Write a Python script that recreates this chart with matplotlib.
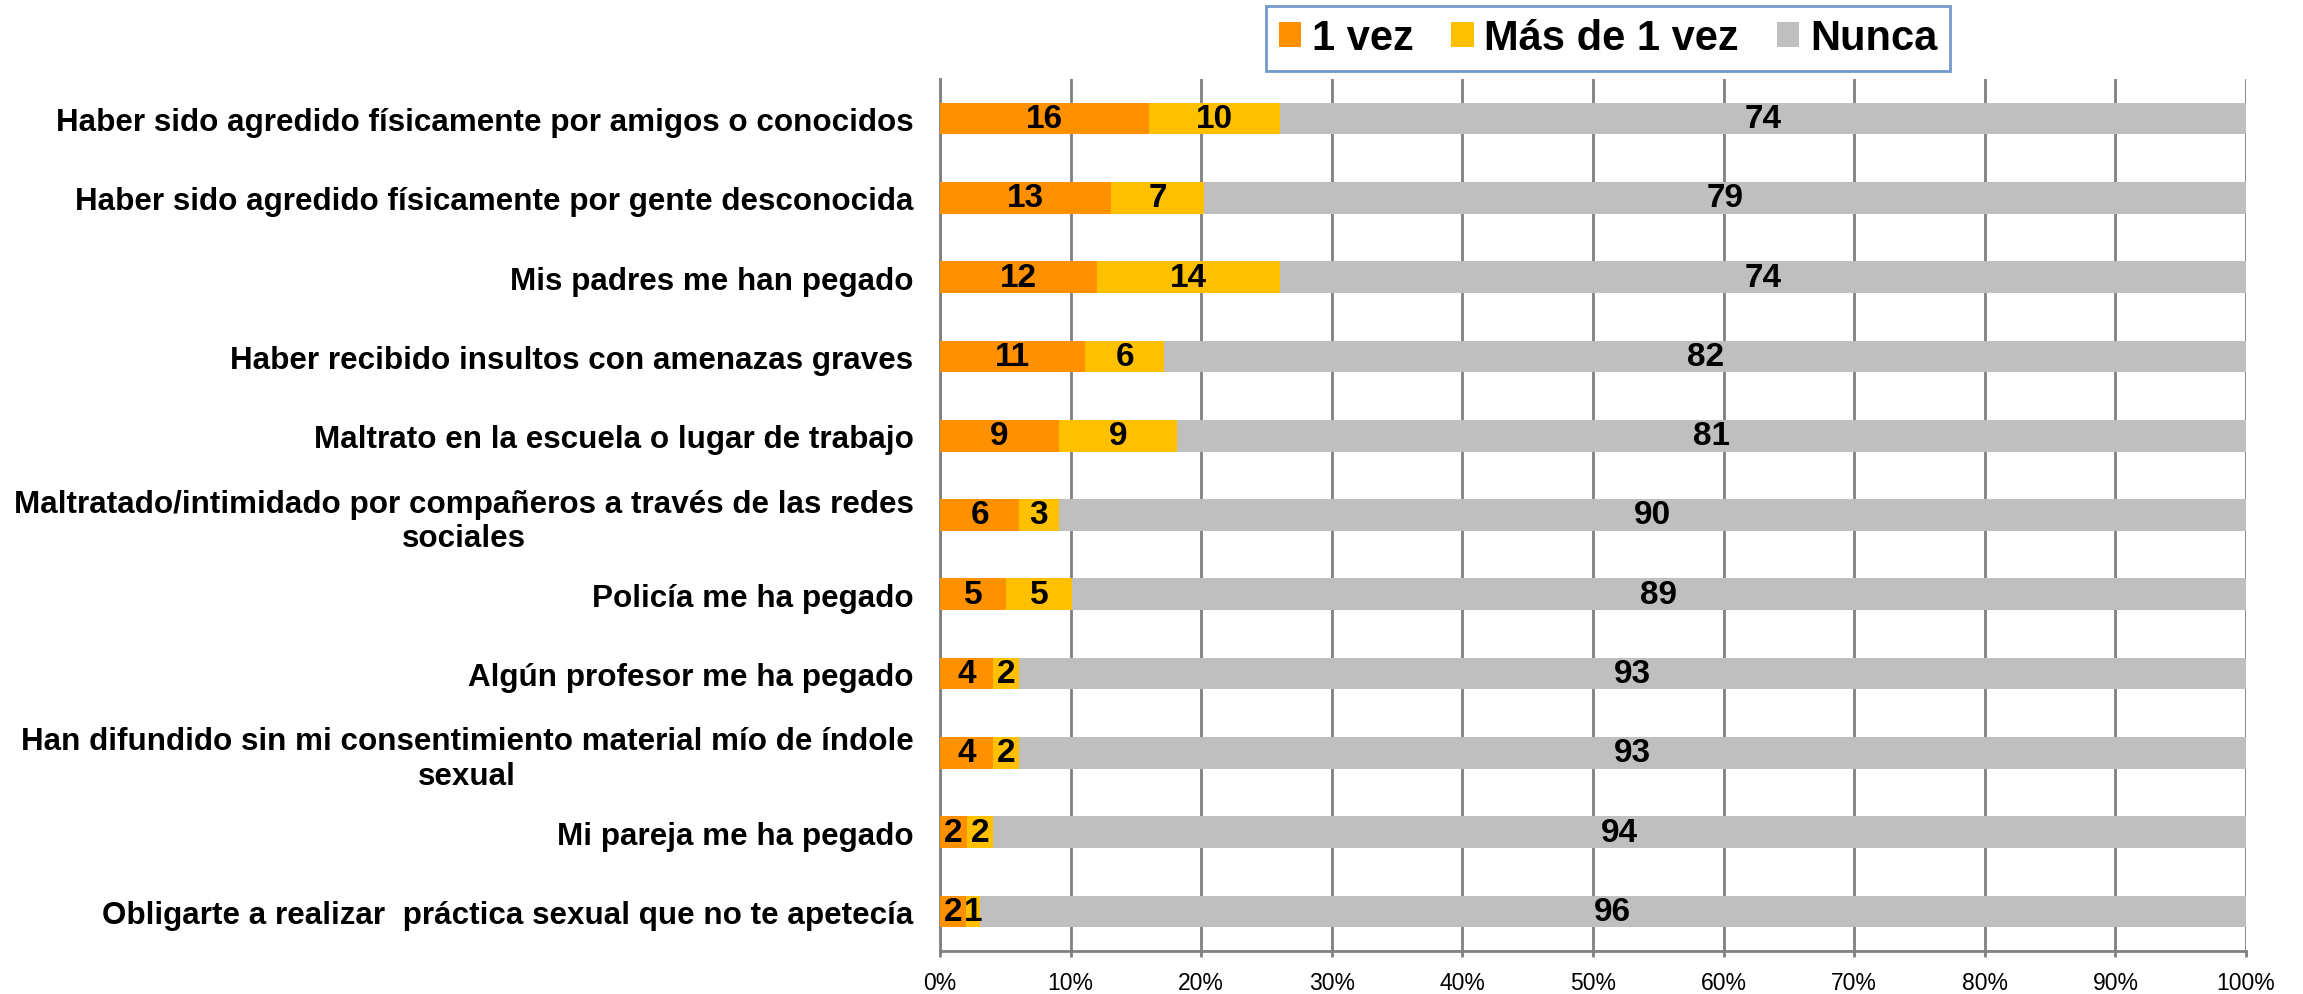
import matplotlib
matplotlib.use("Agg")
import matplotlib.pyplot as plt
import numpy as np
from matplotlib.ticker import PercentFormatter

# categories, top to bottom
categories = [
    "Haber sido agredido físicamente por amigos o conocidos",
    "Haber sido agredido físicamente por gente desconocida",
    "Mis padres me han pegado",
    "Haber recibido insultos con amenazas graves",
    "Maltrato en la escuela o lugar de trabajo",
    "Maltratado/intimidado por compañeros a través de las redes\nsociales",
    "Policía me ha pegado",
    "Algún profesor me ha pegado",
    "Han difundido sin mi consentimiento material mío de índole\nsexual",
    "Mi pareja me ha pegado",
    "Obligarte a realizar  práctica sexual que no te apetecía",
]
una_vez = [16, 13, 12, 11, 9, 6, 5, 4, 4, 2, 2]
mas_de_una = [10, 7, 14, 6, 9, 3, 5, 2, 2, 2, 1]
nunca = [74, 79, 74, 82, 81, 90, 89, 93, 93, 94, 96]

series = [("1 vez", una_vez, "#FF9100"),
          ("Más de 1 vez", mas_de_una, "#FFC000"),
          ("Nunca", nunca, "#BFBFBF")]

font = ["Liberation Sans", "DejaVu Sans"]
plt.rcParams["font.family"] = font

fig = plt.figure(figsize=(23.03, 9.95), dpi=100)
ax = fig.add_axes([940 / 2303, 1 - 952 / 995, (2246 - 940) / 2303, (952 - 80) / 995])

vals = np.array([una_vez, mas_de_una, nunca], dtype=float)
totals = vals.sum(axis=0)
y = np.arange(len(categories))
left = np.zeros(len(categories))
for name, v, col in series:
    v = np.array(v, dtype=float)
    w = v / totals
    ax.barh(y, w, left=left, height=0.4, color=col, label=name, zorder=3)
    for yi, (l, wi, raw) in enumerate(zip(left, w, v)):
        ax.text(l + wi / 2, yi, f"{int(raw)}", ha="center", va="center",
                fontsize=24, fontweight="bold", color="black", zorder=4)
    left += w

ax.set_xlim(0, 1)
ax.set_ylim(len(categories) - 0.5, -0.5)
ax.set_yticks(y)
ax.set_yticklabels(categories, fontsize=22.6, fontweight="bold", ha="right",
                   multialignment="center")
ax.tick_params(axis="y", length=0, pad=19)
ax.set_xticks(np.arange(0, 1.01, 0.1))
ax.xaxis.set_major_formatter(PercentFormatter(1.0, decimals=0))
ax.tick_params(axis="x", labelsize=16.5, length=4.5, width=2, color="#808080", pad=10)
ax.grid(axis="x", color="#808080", linewidth=2, zorder=0)
for s in ["top", "right"]:
    ax.spines[s].set_visible(False)
for s in ["left", "bottom"]:
    ax.spines[s].set_color("#808080")
    ax.spines[s].set_linewidth(2)

leg = fig.legend(loc="upper left", bbox_to_anchor=(1266 / 2303, 1 - 7 / 995), ncol=3,
                 frameon=True, fancybox=False, handlelength=0.55, handleheight=0.55,
                 handletextpad=0.25, columnspacing=0.9, borderpad=0.3, borderaxespad=0,
                 prop={"size": 30, "weight": "bold"})
leg.get_frame().set_edgecolor("#4F81BD")
leg.get_frame().set_linewidth(2)

fig.savefig("out.png", dpi=100)
